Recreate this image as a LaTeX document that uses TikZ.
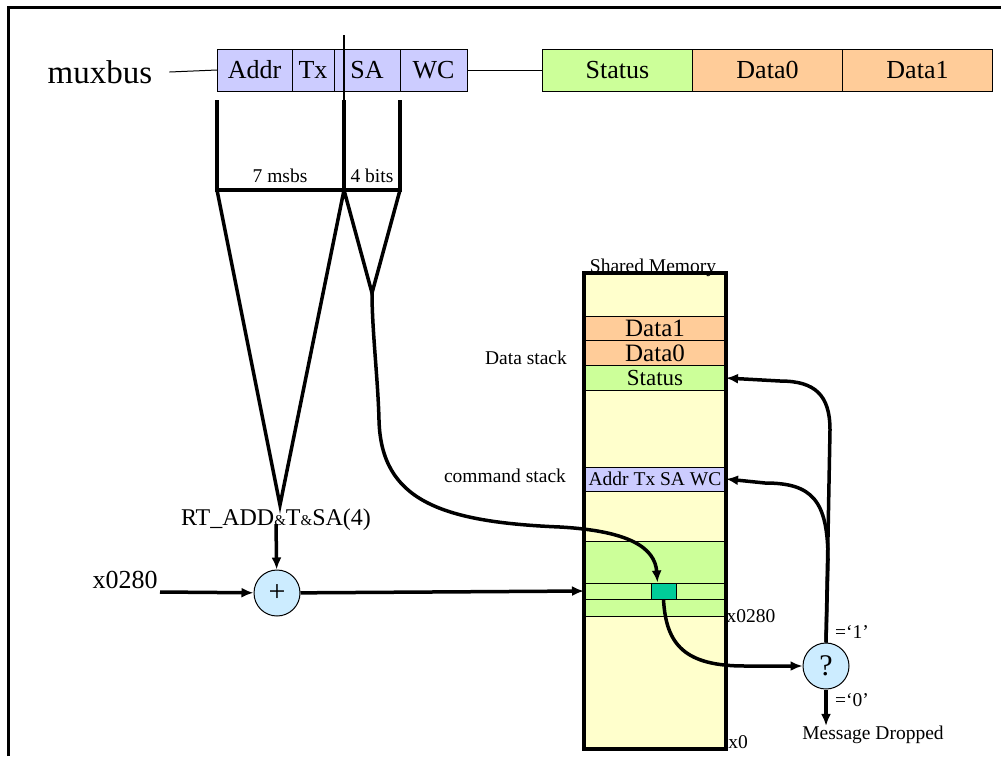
\documentclass[tikz,border=0pt]{standalone}
\usepackage{fontspec}
\setmainfont{Liberation Serif}
\usepackage{tikz}
\usetikzlibrary{positioning}
\usetikzlibrary{arrows.meta}
\definecolor{cmdblue}{HTML}{CCCCFF}
\definecolor{statgreen}{HTML}{CCFF99}
\definecolor{dataorange}{HTML}{FFCC99}
\definecolor{memyellow}{HTML}{FFFFCC}
\definecolor{opblue}{HTML}{CCECFF}
\definecolor{cellteal}{HTML}{00CC99}
\tikzstyle{field} = [rectangle, draw=black, line width=1pt, minimum height=42, inner sep=0pt, outer sep=0pt, font=\fontsize{26}{30}\selectfont]
\tikzstyle{memrow} = [rectangle, draw=black, line width=1pt, minimum width=142, inner sep=0pt, outer sep=0pt]
\tikzstyle{opcircle} = [circle, draw=black, line width=1pt, fill=opblue, minimum size=46, inner sep=0pt, font=\fontsize{30}{34}\selectfont]
\tikzstyle{lbl} = [inner sep=0pt, font=\fontsize{19.5}{22}\selectfont]
\tikzstyle{biglbl} = [inner sep=0pt, font=\fontsize{26}{30}\selectfont]
\tikzstyle{bus} = [line width=3.5pt]
\tikzstyle{arrow} = [line width=3.5pt,-{Latex[length=12pt,width=10pt]}]
\begin{document}
\begin{tikzpicture}[x=1pt, y=-1pt]
\useasboundingbox (0,0) rectangle (1001,756);
\draw[line width=3pt] (8,756) -- (8,7) -- (1001,7);

% the 1553 bus word
\node (muxbus) [inner sep=0pt, font=\fontsize{33}{36}\selectfont] at (100,72) {muxbus};
\node (addr) [field, fill=cmdblue, minimum width=75] at (254.5,70) {Addr};
\node (tx) [field, fill=cmdblue, minimum width=42, right=0pt of addr] {Tx};
\node (sa) [field, fill=cmdblue, minimum width=66, right=0pt of tx] {SA};
\node (wc) [field, fill=cmdblue, minimum width=67, right=0pt of sa] {WC};
\node (status) [field, fill=statgreen, minimum width=150] at (617.5,70) {Status};
\node (data0) [field, fill=dataorange, minimum width=150, right=0pt of status] {Data0};
\node (data1) [field, fill=dataorange, minimum width=150, right=0pt of data0] {Data1};
\draw[line width=1pt] ([xshift=17pt]muxbus.east) -- (addr.west);
\draw[line width=1pt] (wc.east) -- (status.west);
\draw[line width=1.2pt] (344,35) -- (344,100);

% address bits split
\coordinate (msbtop) at (217,100);
\coordinate (midtop) at (344,100);
\coordinate (lsbtop) at (400,100);
\coordinate (msb) at (217,190);
\coordinate (mid) at (344,190);
\coordinate (lsb) at (400,190);
\coordinate (apex) at (280,505);
\coordinate (apex2) at (372,293);
\draw[bus] (msbtop) -- (msb) -- (lsb) -- (lsbtop);
\draw[bus] (midtop) -- (mid);
\draw[bus, line join=miter] (msb) -- (apex) -- (mid) -- (apex2) -- (lsb);
\node (msbs) [lbl] at (280,176) {7 msbs};
\node (bits) [lbl] at (372,176) {4 bits};

\node (rtadd) [inner sep=0pt, font=\fontsize{24}{28}\selectfont] at (276,520) {RT\_ADD{\fontsize{15}{16}\selectfont\&}T{\fontsize{15}{16}\selectfont\&}SA(4)};
\node (plus) [opcircle] at (277,593) {+};
\node (base) [biglbl] at (125,580) {x0280};
\coordinate (basein) at (160,592);
\draw[arrow] ([yshift=7pt]rtadd.south) -- (plus);
\draw[arrow] (basein) -- (plus);

% shared memory
\node (mem) [rectangle, fill=memyellow, minimum width=142, minimum height=476, inner sep=0pt, outer sep=0pt] at (655,511) {};
\node (memlbl) [lbl, anchor=base] at (653,272) {Shared Memory};
\node (mdata1) [memrow, fill=dataorange, minimum height=24.5, font=\fontsize{25}{28}\selectfont] at (655,328.5) {Data1};
\node (mdata0) [memrow, fill=dataorange, minimum height=24.5, font=\fontsize{25}{28}\selectfont] at (655,353) {Data0};
\node (mstatus) [memrow, fill=statgreen, minimum height=25, font=\fontsize{23}{26}\selectfont] at (655,378) {Status};
\node (mcmd) [memrow, fill=cmdblue, minimum height=24, font=\fontsize{19.5}{22}\selectfont] at (655,479) {Addr Tx SA WC};
\node (band) [memrow, fill=statgreen, minimum height=75] at (655,578.5) {};
\node (row) [memrow, fill=statgreen, minimum height=16] at (655,591) {};
\node (cell) [rectangle, draw=black, line width=1pt, fill=cellteal, minimum width=25, minimum height=16, inner sep=0pt] at (663.5,591) {};
\draw[line width=3.5pt] (mem.north west) rectangle (mem.south east);
\node (dstack) [lbl] at (526,358) {Data stack};
\node (cstack) [lbl] at (505,476) {command stack};
\node (maddr) [lbl] at (751,616) {x0280};
\node (mzero) [lbl] at (738,742) {x0};
\draw[arrow] (plus) -- (row.west);

% subaddress lookup and test
\node (test) [opcircle] at (826,666) {?};
\node (one) [lbl] at (852,632) {=`1'};
\node (zero) [lbl] at (852,700) {=`0'};
\node (drop) [lbl] at (873,735) {Message Dropped};
\draw[arrow] (apex2) .. controls (372,330) and (378,380) .. (379,420)
  .. controls (381,500) and (440,522) .. (560,527)
  .. controls (630,531) and (655,548) .. ([xshift=-6pt]cell.north);
\draw[arrow] (cell.south) .. controls (666,645) and (685,666) .. (745,666) -- (test.west);
\draw[arrow] (test.north) -- (828,560) .. controls (828,500) and (812,483) .. (765,483) -- (mcmd.east);
\draw[arrow] (test.north) -- (830,430) .. controls (830,395) and (815,381) .. (780,381) -- (mstatus.east);
\draw[arrow] (test.south) -- (test.south |- drop.north);
\end{tikzpicture}
\end{document}
